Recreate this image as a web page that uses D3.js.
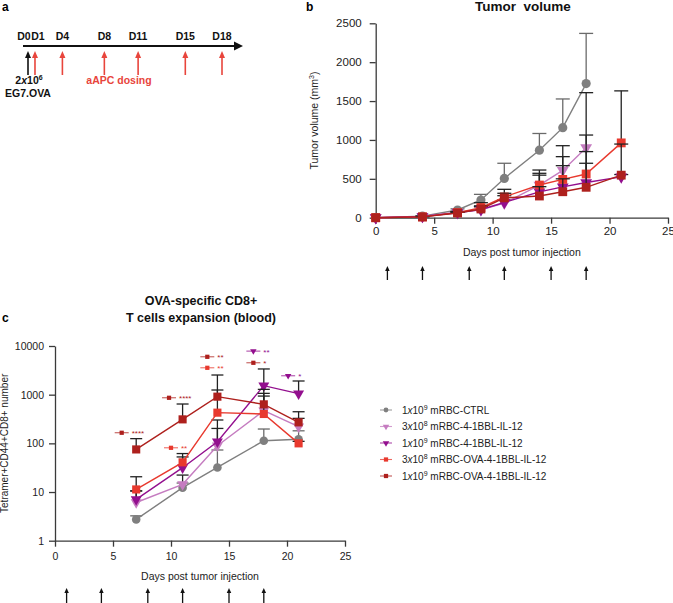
<!DOCTYPE html>
<html><head><meta charset="utf-8">
<script src="https://cdn.jsdelivr.net/npm/d3@7"></script>
<style>
body{margin:0;background:#fff}
svg{display:block}
text{font-family:"Liberation Sans",Arial,sans-serif}
</style>
</head><body>
<svg id="chart" width="673" height="603"></svg>
<script>
// ---------- DATA ----------
const seriesCoef = ["1", "3", "1", "3", "1"];
const seriesExp = ["9", "8", "9", "8", "9"];
const seriesName = ["mRBC-CTRL", "mRBC-4-1BBL-IL-12", "mRBC-4-1BBL-IL-12", "mRBC-OVA-4-1BBL-IL-12", "mRBC-OVA-4-1BBL-IL-12"];
const seriesShape = ["circle", "triangle-down", "triangle-down", "square", "square"];

// Panel a: schedule
const scheduleDays = [0, 1, 4, 8, 11, 15, 18];
const scheduleLabels = ["D0", "D1", "D4", "D8", "D11", "D15", "D18"];
const dosingDays = [1, 4, 8, 11, 15, 18];

// Panel b: tumor volume (mm3)
const tumorDays = [0, 4, 7, 9, 11, 14, 16, 18, 21];
const tumorCtrl     = [0, 20, 99, 228, 505, 868, 1158, 1725, null];
const tumorCtrlErr  = [0, 5, 15, 72, 195, 215, 369, 645, null];
const tumor3e8      = [0, 15, 70, 100, 188, 420, 608, 900, null];
const tumor3e8Err   = [0, 3, 10, 40, 42, 193, 318, 708, null];
const tumor1e9      = [0, 15, 64, 105, 196, 332, 397, 452, 525];
const tumor1e9Err   = [0, 3, 10, 40, 87, 215, 272, 398, 30];
const tumorOva3e8   = [0, 10, 65, 130, 268, 420, 492, 562, 962];
const tumorOva3e8Err= [0, 3, 10, 63, 97, 151, 293, 501, 669];
const tumorOva1e9   = [0, 10, 60, 112, 255, 279, 334, 391, 547];
const tumorOva1e9Err= [0, 3, 10, 40, 59, 120, 166, 309, 400];

// Panel c: tetramer+ CD44+ CD8+ counts
const bloodDays = [7, 11, 14, 18, 21];
const bloodCtrl     = [2.74, 12.3, 32, 113, 121];
const bloodCtrlErr  = [0.5, 3, 41, 84, 60];
const blood3e8      = [6.1, 14.4, 89.5, 469, 220];
const blood3e8Err   = [4.4, 7.9, 113, 467, 106];
const blood1e9      = [7.07, 31.6, 108, 1531, 1049];
const blood1e9Err   = [3.5, 21, 194, 1844, 861];
const bloodOva3e8   = [11.3, 40.7, 427, 401, 100];
const bloodOva3e8Err= [9.3, 21, 820, 663, 10];
const bloodOva1e9   = [75, 311, 910, 633, 270];
const bloodOva1e9Err= [50, 332, 1625, 652, 176];

// significance annotations: series index, day, value, stars
const sigSeries = [4, 3, 4, 4, 3, 2, 4, 2];
const sigDay    = [5.75, 10.0, 9.83, 13.13, 13.13, 17.1, 17.1, 20.1];
const sigValue  = [165, 81, 863, 6000, 3565, 7850, 4520, 2444];
const sigStars  = ["****", "**", "****", "**", "**", "**", "*", "*"];

const bTicksY = [0, 500, 1000, 1500, 2000, 2500];
const xTicks = [0, 5, 10, 15, 20, 25];
const cTicksY = [1, 10, 100, 1000, 10000];

// ---------- STYLE ----------
const colors = ["#7f7f7f", "#c57cc0", "#930f8e", "#e8392e", "#ae201d"];
const errColors = ["#6a6a6a", "#222", "#222", "#222", "#222"];
const FONT = '"Liberation Sans", Arial, sans-serif';

const svg = d3.select("#chart");

function symPath(shape, size) {
  const t = shape === "circle" ? d3.symbolCircle : shape === "square" ? d3.symbolSquare : d3.symbolTriangle;
  return d3.symbol().type(t).size(size)();
}
function drawMarker(g, shape, x, y, size, color) {
  g.append("path")
    .attr("d", symPath(shape, size))
    .attr("transform", `translate(${x},${y})` + (shape === "triangle-down" ? " rotate(180)" : ""))
    .attr("fill", color);
}
function styleAxis(g, fs) {
  g.selectAll("path.domain").attr("stroke", "#3a3a3a").attr("stroke-width", 1.3);
  g.selectAll(".tick line").attr("stroke", "#3a3a3a").attr("stroke-width", 1.3);
  g.selectAll(".tick text").attr("fill", "#222").style("font-size", fs + "px").style("font-family", FONT);
}
function upArrow(g, x, yTop, yBot, color, w, headW, headH) {
  g.append("line").attr("x1", x).attr("x2", x).attr("y1", yTop + headH - 1).attr("y2", yBot)
    .attr("stroke", color).attr("stroke-width", w);
  g.append("path").attr("d", `M${x},${yTop} L${x - headW / 2},${yTop + headH} L${x + headW / 2},${yTop + headH} Z`)
    .attr("fill", color);
}

// ---------- PANEL A ----------
const gA = svg.append("g");
gA.append("text").attr("x", 2).attr("y", 11).text("a")
  .style("font-size", "12px").style("font-weight", "bold");
const xa = d3.scalePow().exponent(1.15).domain([0, 18]).range([28, 222]);
gA.append("line").attr("x1", 23).attr("x2", 236).attr("y1", 46).attr("y2", 46)
  .attr("stroke", "#111").attr("stroke-width", 1.8);
gA.append("path").attr("d", "M243,46 L234,41.5 L234,50.5 Z").attr("fill", "#111");
gA.selectAll("text.dl").data(scheduleDays).enter().append("text")
  .attr("class", "dl")
  .attr("x", (d, i) => xa(d) + (i === 0 ? -4 : i === 1 ? 3 : 0))
  .attr("y", 40).attr("text-anchor", "middle")
  .style("font-size", "10.5px").style("font-weight", "bold").attr("fill", "#111")
  .text((d, i) => scheduleLabels[i]);
upArrow(gA, xa(0), 51, 75, "#111", 1.6, 6, 7);
dosingDays.forEach(d => upArrow(gA, xa(d), 51, 75, "#e8453c", 1.6, 6, 7));
const t1 = gA.append("text").attr("x", 29).attr("y", 84).attr("text-anchor", "middle")
  .style("font-size", "10.5px").style("font-weight", "bold").attr("fill", "#111");
t1.append("tspan").text("2");
t1.append("tspan").text("x").style("font-style", "italic");
t1.append("tspan").text("10");
t1.append("tspan").text("6").attr("dy", -4).style("font-size", "7px");
gA.append("text").attr("x", 28).attr("y", 97).attr("text-anchor", "middle")
  .style("font-size", "10.5px").style("font-weight", "bold").attr("fill", "#111").text("EG7.OVA");
gA.append("text").attr("x", 119).attr("y", 84).attr("text-anchor", "middle")
  .style("font-size", "10.5px").style("font-weight", "bold").attr("fill", "#e8453c").text("aAPC dosing");

// ---------- PANEL B ----------
const gB = svg.append("g");
const xB = d3.scaleLinear().domain([0, 25]).range([375.7, 668]);
const yB = d3.scaleLinear().domain([0, 2500]).range([217.7, 23.3]);
gB.append("text").attr("x", 306).attr("y", 11).text("b")
  .style("font-size", "12px").style("font-weight", "bold");
gB.append("text").attr("x", 523).attr("y", 11).attr("text-anchor", "middle")
  .style("font-size", "13.5px").style("font-weight", "bold").attr("fill", "#111")
  .attr("xml:space", "preserve").text("Tumor  volume");
const axB = gB.append("g").attr("transform", `translate(0,${yB(0)})`)
  .call(d3.axisBottom(xB).tickValues(xTicks).tickFormat(d3.format("d")).tickSize(6).tickSizeOuter(0).tickPadding(3));
styleAxis(axB, 11.5);
const ayB = gB.append("g").attr("transform", `translate(${xB(0)},0)`)
  .call(d3.axisLeft(yB).tickValues(bTicksY).tickFormat(d3.format("d")).tickSize(6).tickSizeOuter(0).tickPadding(8));
styleAxis(ayB, 11.5);
const ylabB = gB.append("text").attr("transform", `translate(318,${(yB(0) + yB(2500)) / 2}) rotate(-90)`)
  .attr("text-anchor", "middle").style("font-size", "10.5px").attr("fill", "#222");
ylabB.append("tspan").text("Tumor volume (mm");
ylabB.append("tspan").text("3").attr("dy", -4).style("font-size", "7px");
ylabB.append("tspan").text(")").attr("dy", 4);
gB.append("text").attr("x", (xB(0) + xB(25)) / 2).attr("y", 256).attr("text-anchor", "middle")
  .style("font-size", "10.5px").attr("fill", "#222").text("Days post tumor injection");
dosingDays.forEach(d => upArrow(gB, xB(d), 266, 280, "#111", 1.3, 4.5, 5));

const tumorMeans = [tumorCtrl, tumor3e8, tumor1e9, tumorOva3e8, tumorOva1e9];
const tumorErrs = [tumorCtrlErr, tumor3e8Err, tumor1e9Err, tumorOva3e8Err, tumorOva1e9Err];
const bSizes = {"circle": 66, "square": 78, "triangle-down": 60};
tumorMeans.forEach((arr, s) => {
  const pts = tumorDays.map((d, i) => ({d, v: arr[i], e: tumorErrs[s][i]})).filter(p => p.v !== null);
  const g = gB.append("g");
  pts.forEach(p => {
    if (p.e > 0) {
      g.append("line").attr("x1", xB(p.d)).attr("x2", xB(p.d)).attr("y1", yB(p.v)).attr("y2", yB(p.v + p.e))
        .attr("stroke", errColors[s]).attr("stroke-width", 1.3);
      g.append("line").attr("x1", xB(p.d) - 7).attr("x2", xB(p.d) + 7).attr("y1", yB(p.v + p.e)).attr("y2", yB(p.v + p.e))
        .attr("stroke", errColors[s]).attr("stroke-width", 1.3);
    }
  });
  g.append("path").datum(pts)
    .attr("d", d3.line().x(p => xB(p.d)).y(p => yB(p.v)))
    .attr("fill", "none").attr("stroke", colors[s]).attr("stroke-width", 1.4);
  pts.forEach(p => drawMarker(g, seriesShape[s], xB(p.d), yB(p.v), bSizes[seriesShape[s]], colors[s]));
});

// ---------- PANEL C ----------
const gC = svg.append("g");
const xC = d3.scaleLinear().domain([0, 25]).range([55, 345]);
const yC = d3.scaleLog().domain([1, 10000]).range([540.7, 346]);
gC.append("text").attr("x", 2).attr("y", 322).text("c")
  .style("font-size", "12px").style("font-weight", "bold");
gC.append("text").attr("x", 201).attr("y", 305).attr("text-anchor", "middle")
  .style("font-size", "12.5px").style("font-weight", "bold").attr("fill", "#111").text("OVA-specific CD8+");
gC.append("text").attr("x", 201).attr("y", 322).attr("text-anchor", "middle")
  .style("font-size", "12.5px").style("font-weight", "bold").attr("fill", "#111").text("T cells expansion (blood)");
const axC = gC.append("g").attr("transform", `translate(0,${yC(1)})`)
  .call(d3.axisBottom(xC).tickValues(xTicks).tickFormat(d3.format("d")).tickSize(6).tickSizeOuter(0).tickPadding(6));
styleAxis(axC, 10.5);
const ayC = gC.append("g").attr("transform", `translate(${xC(0)},0)`)
  .call(d3.axisLeft(yC).tickValues(cTicksY).tickFormat(d3.format("d")).tickSize(6).tickSizeOuter(0).tickPadding(5));
styleAxis(ayC, 10.5);
gC.append("text").attr("transform", `translate(8,${(yC(1) + yC(10000)) / 2}) rotate(-90)`)
  .attr("text-anchor", "middle").style("font-size", "10px").attr("fill", "#222").text("Tetramer+CD44+CD8+ number");
gC.append("text").attr("x", (xC(0) + xC(25)) / 2).attr("y", 580).attr("text-anchor", "middle")
  .style("font-size", "10.5px").attr("fill", "#222").text("Days post tumor injection");
dosingDays.forEach(d => upArrow(gC, xC(d), 588, 604, "#111", 1.3, 4.5, 5));

const bloodMeans = [bloodCtrl, blood3e8, blood1e9, bloodOva3e8, bloodOva1e9];
const bloodErrs = [bloodCtrlErr, blood3e8Err, blood1e9Err, bloodOva3e8Err, bloodOva1e9Err];
const cSizes = {"circle": 58, "square": 66, "triangle-down": 52};
bloodMeans.forEach((arr, s) => {
  const pts = bloodDays.map((d, i) => ({d, v: arr[i], e: bloodErrs[s][i]}));
  const g = gC.append("g");
  pts.forEach(p => {
    g.append("line").attr("x1", xC(p.d)).attr("x2", xC(p.d)).attr("y1", yC(p.v)).attr("y2", yC(p.v + p.e))
      .attr("stroke", errColors[s]).attr("stroke-width", 1.3);
    g.append("line").attr("x1", xC(p.d) - 6).attr("x2", xC(p.d) + 6).attr("y1", yC(p.v + p.e)).attr("y2", yC(p.v + p.e))
      .attr("stroke", errColors[s]).attr("stroke-width", 1.3);
  });
  g.append("path").datum(pts)
    .attr("d", d3.line().x(p => xC(p.d)).y(p => yC(p.v)))
    .attr("fill", "none").attr("stroke", colors[s]).attr("stroke-width", 1.4);
  pts.forEach(p => drawMarker(g, seriesShape[s], xC(p.d), yC(p.v), cSizes[seriesShape[s]], colors[s]));
});

// significance markers
sigSeries.forEach((s, i) => {
  const x = xC(sigDay[i]), y = yC(sigValue[i]);
  const g = gC.append("g");
  g.append("line").attr("x1", x - 7).attr("x2", x + 7).attr("y1", y).attr("y2", y)
    .attr("stroke", colors[s]).attr("stroke-width", 1).attr("opacity", 0.8);
  drawMarker(g, seriesShape[s], x, y, 18, colors[s]);
  g.append("text").attr("x", x + 10).attr("y", y + 3.5)
    .style("font-size", "8px").attr("fill", colors[s]).text(sigStars[i]);
});

// ---------- LEGEND ----------
const gL = svg.append("g");
seriesName.forEach((name, s) => {
  const y = 410 + s * 16.5;
  gL.append("line").attr("x1", 380).attr("x2", 392).attr("y1", y).attr("y2", y)
    .attr("stroke", colors[s]).attr("stroke-width", 1.1).attr("opacity", 0.75);
  drawMarker(gL, seriesShape[s], 386, y, 18, colors[s]);
  const t = gL.append("text").attr("x", 402).attr("y", y + 3.5)
    .style("font-size", "10px").attr("fill", "#222");
  t.append("tspan").text(seriesCoef[s]);
  t.append("tspan").text("x").style("font-style", "italic");
  t.append("tspan").text("10");
  t.append("tspan").text(seriesExp[s]).attr("dy", -4).style("font-size", "7px");
  t.append("tspan").text(" " + name).attr("dy", 4);
});
</script>
</body></html>
